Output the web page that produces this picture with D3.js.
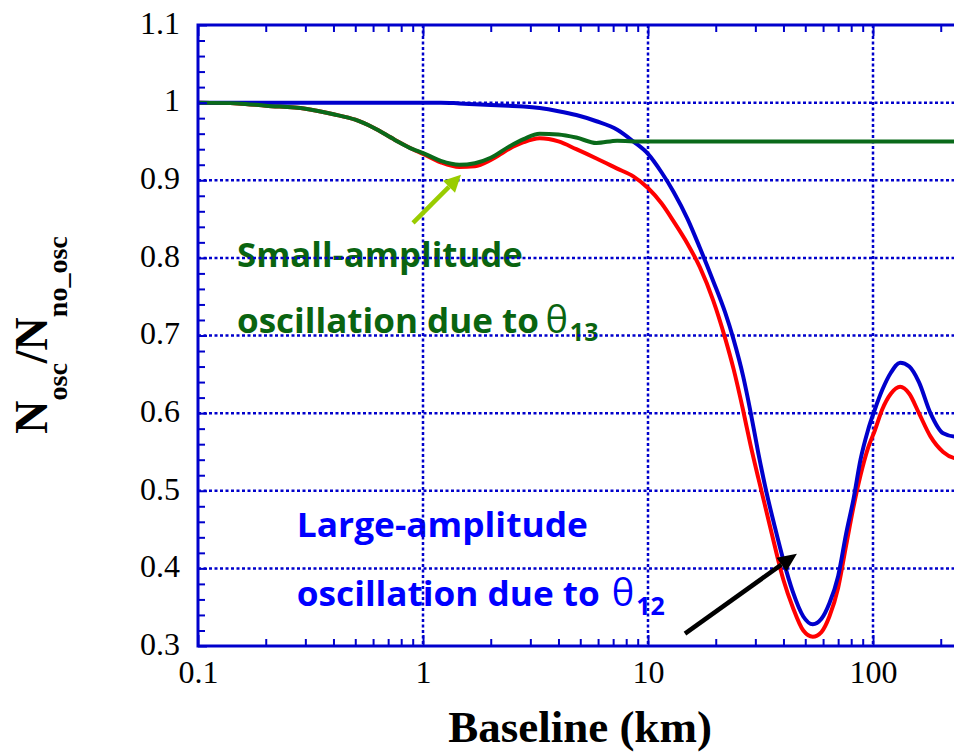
<!DOCTYPE html>
<html>
<head>
<meta charset="utf-8">
<title>Nosc/Nno_osc vs baseline</title>
<script src="https://cdnjs.cloudflare.com/ajax/libs/d3/7.8.5/d3.min.js"></script>
<style>
  body { margin: 0; background: #fff; }
  svg { display: block; }
  .tick-label { font-family: "Times New Roman", "Liberation Serif", serif; font-size: 32px; fill: #000; }
  .axis-title { font-family: "Times New Roman", "Liberation Serif", serif; font-weight: bold; fill: #000; }
  .note { font-family: "Comic Sans MS", "Open Sans", sans-serif; font-weight: bold; }
</style>
</head>
<body>
<svg id="chart" width="954" height="752"></svg>
<script>
// Baseline in km (log axis)
const baseline = [0.1, 0.15, 0.2, 0.3, 0.4, 0.5, 0.6, 0.75, 0.9, 1.0, 1.2, 1.45, 1.7, 2.0, 2.4, 2.8, 3.3, 4.0, 4.8, 5.9,
  7.3, 8.6, 10, 11.5, 13, 15, 17, 19.5, 22, 24, 26.5, 28.5, 31, 33.5, 36.5, 40, 44, 49, 54, 59,
  64, 70, 76, 82, 88, 95, 102, 110, 120, 132, 145, 160, 180, 205, 230, 260, 300];

// red: both angles
const bothAngles = [1.0, 0.999, 0.996, 0.992, 0.985, 0.978, 0.968, 0.952, 0.94, 0.934, 0.923, 0.917, 0.918, 0.926, 0.94, 0.949, 0.954, 0.95, 0.94, 0.928,
  0.915, 0.905, 0.89, 0.87, 0.847, 0.818, 0.788, 0.745, 0.697, 0.657, 0.603, 0.56, 0.515, 0.475, 0.43, 0.385, 0.35, 0.32, 0.312, 0.318,
  0.338, 0.375, 0.43, 0.48, 0.52, 0.555, 0.578, 0.605, 0.625, 0.634, 0.625, 0.6, 0.57, 0.55, 0.542, 0.54, 0.54];

// blue: theta12 only
const theta12Only = [1.0, 1.0, 1.0, 1.0, 1.0, 1.0, 1.0, 1.0, 1.0, 1.0, 1.0, 0.999, 0.998, 0.997, 0.996, 0.995, 0.993, 0.989, 0.984, 0.976,
  0.965, 0.95, 0.934, 0.91, 0.885, 0.85, 0.813, 0.77, 0.73, 0.695, 0.647, 0.603, 0.547, 0.5, 0.455, 0.41, 0.37, 0.338, 0.328, 0.335,
  0.355, 0.39, 0.445, 0.49, 0.54, 0.578, 0.605, 0.63, 0.652, 0.665, 0.66, 0.64, 0.6, 0.574, 0.57, 0.57, 0.57];

// green: theta13 only
const theta13Only = [1.0, 0.999, 0.996, 0.992, 0.985, 0.978, 0.968, 0.952, 0.94, 0.935, 0.925, 0.92, 0.922, 0.929, 0.943, 0.953, 0.96, 0.959, 0.955, 0.948,
  0.951, 0.95, 0.95, 0.95, 0.95, 0.95, 0.95, 0.95, 0.95, 0.95, 0.95, 0.95, 0.95, 0.95, 0.95, 0.95, 0.95, 0.95, 0.95, 0.95,
  0.95, 0.95, 0.95, 0.95, 0.95, 0.95, 0.95, 0.95, 0.95, 0.95, 0.95, 0.95, 0.95, 0.95, 0.95, 0.95, 0.95];

const xTickValues = [0.1, 1, 10, 100];
const xTickLabels = ["0.1", "1", "10", "100"];
const yTickValues = [0.3, 0.4, 0.5, 0.6, 0.7, 0.8, 0.9, 1.0, 1.1];
const yTickLabels = ["0.3", "0.4", "0.5", "0.6", "0.7", "0.8", "0.9", "1", "1.1"];

const svg = d3.select("#chart");
const plotLeft = 198, plotTop = 25, plotBottom = 646;

const x = d3.scaleLog().domain([0.1, 300]).range([plotLeft, plotLeft + 225 * Math.log10(3000)]);
const y = d3.scaleLinear().domain([0.3, 1.1]).range([plotBottom, plotTop]);
const plotRight = x(300);

const blue = "#0000cc";

// annotations (under the grid)
function note(lines, sym, sub, color) {
  const g = svg.append("g").attr("class", "note").attr("fill", color);
  lines.forEach(l => {
    g.append("text")
      .attr("x", x(l.at[0])).attr("y", y(l.at[1]))
      .attr("font-size", 34)
      .attr("textLength", l.len).attr("lengthAdjust", "spacingAndGlyphs")
      .text(l.text);
  });
  const th = g.append("text").attr("x", x(sym.at[0])).attr("y", y(sym.at[1]))
    .attr("font-size", 38).attr("font-weight", "normal").text(sym.text);
  const thEnd = x(sym.at[0]) + th.node().getComputedTextLength();
  g.append("text").attr("x", thEnd + 2).attr("y", y(sym.at[1]) + sub.drop)
    .attr("font-size", 25).text(sub.text);
}

note([{text: "Small-amplitude", at: [0.149, 0.788], len: 286},
      {text: "oscillation due to", at: [0.149, 0.703], len: 302}],
     {text: "θ", at: [3.5, 0.703]}, {text: "13", drop: 8}, "#0a6410");

note([{text: "Large-amplitude", at: [0.275, 0.44], len: 291},
      {text: "oscillation due to", at: [0.275, 0.352], len: 303}],
     {text: "θ", at: [6.9, 0.352]}, {text: "12", drop: 9}, "#0000ff");

// grid
const grid = svg.append("g").attr("stroke", blue).attr("stroke-width", 2.5).attr("stroke-dasharray", "3,2.5");
grid.selectAll(".hg").data(yTickValues.slice(1, -1)).join("line")
  .attr("x1", plotLeft).attr("x2", plotRight).attr("y1", d => y(d)).attr("y2", d => y(d));
grid.selectAll(".vg").data(xTickValues.slice(1)).join("line")
  .attr("y1", plotTop).attr("y2", plotBottom).attr("x1", d => x(d)).attr("x2", d => x(d));

// curves
const line = d3.line().x((d, i) => x(baseline[i])).y(d => y(d)).curve(d3.curveMonotoneX);
[[bothAngles, "#ff0000"], [theta12Only, blue], [theta13Only, "#0a6a1a"]].forEach(([s, c]) => {
  svg.append("path").datum(s).attr("d", line)
    .attr("fill", "none").attr("stroke", c).attr("stroke-width", 4).attr("stroke-linejoin", "round");
});

// minor ticks
const xMinor = [];
[0.1, 1, 10, 100].forEach(d => { for (let k = 2; k <= 9; k++) if (k * d <= 300) xMinor.push(k * d); });
const yMinor = d3.range(0.32, 1.1, 0.02).filter(v => Math.abs(v * 10 - Math.round(v * 10)) > 0.01);

const axisStyle = g => {
  g.select(".domain").remove();
  g.selectAll(".tick line").attr("stroke", blue).attr("stroke-width", 2);
};

svg.append("g").attr("transform", `translate(0,${plotBottom})`)
  .call(d3.axisBottom(x).tickValues(xMinor).tickSize(-7).tickFormat("")).call(axisStyle);
svg.append("g").attr("transform", `translate(0,${plotTop})`)
  .call(d3.axisTop(x).tickValues(xMinor).tickSize(-7).tickFormat("")).call(axisStyle);
svg.append("g").attr("transform", `translate(0,${plotTop})`)
  .call(d3.axisTop(x).tickValues(xTickValues).tickSize(-11).tickFormat("")).call(axisStyle);
svg.append("g").attr("transform", `translate(${plotLeft},0)`)
  .call(d3.axisLeft(y).tickValues(yMinor).tickSize(-7).tickFormat("")).call(axisStyle);

// labelled axes
const xAx = svg.append("g").attr("transform", `translate(0,${plotBottom})`)
  .call(d3.axisBottom(x).tickValues(xTickValues).tickSize(-11).tickPadding(14)
    .tickFormat((d, i) => xTickLabels[i])).call(axisStyle);
xAx.selectAll("text").attr("class", "tick-label").attr("fill", "#000");
const yAx = svg.append("g").attr("transform", `translate(${plotLeft},0)`)
  .call(d3.axisLeft(y).tickValues(yTickValues).tickSize(-9).tickPadding(18)
    .tickFormat((d, i) => yTickLabels[i])).call(axisStyle);
yAx.selectAll("text").attr("class", "tick-label").attr("fill", "#000").attr("dy", "0.26em");

// frame
svg.append("rect").attr("x", plotLeft).attr("y", plotTop)
  .attr("width", plotRight - plotLeft).attr("height", plotBottom - plotTop)
  .attr("fill", "none").attr("stroke", blue).attr("stroke-width", 3);

// arrows
function arrow(from, to, color, head, wid) {
  const x0 = x(from[0]), y0 = y(from[1]), x1 = x(to[0]), y1 = y(to[1]);
  const a = Math.atan2(y1 - y0, x1 - x0);
  const bx = x1 - head * Math.cos(a), by = y1 - head * Math.sin(a);
  svg.append("line").attr("x1", x0).attr("y1", y0).attr("x2", bx).attr("y2", by)
    .attr("stroke", color).attr("stroke-width", 4.5);
  const px = -Math.sin(a) * wid / 2, py = Math.cos(a) * wid / 2;
  svg.append("polygon").attr("fill", color)
    .attr("points", [[x1, y1], [bx + px, by + py], [bx - px, by - py]].map(p => p.join(",")).join(" "));
}
arrow([0.903, 0.845], [1.475, 0.907], "#99cc00", 17, 17);
arrow([14.6, 0.316], [45.9, 0.419], "#000", 19, 17);

// axis titles
svg.append("text").attr("class", "axis-title").attr("x", 580).attr("y", 742)
  .attr("text-anchor", "middle").attr("font-size", 45).text("Baseline (km)");

const yt = svg.append("text").attr("class", "axis-title").attr("font-size", 46)
  .attr("text-anchor", "middle").attr("transform", "translate(47,335) rotate(-90)");
yt.append("tspan").text("N");
yt.append("tspan").attr("font-size", 28).attr("dy", 20).text("osc");
yt.append("tspan").attr("dy", -20).text("/N");
yt.append("tspan").attr("font-size", 28).attr("dy", 20).text("no_osc");
</script>
</body>
</html>
